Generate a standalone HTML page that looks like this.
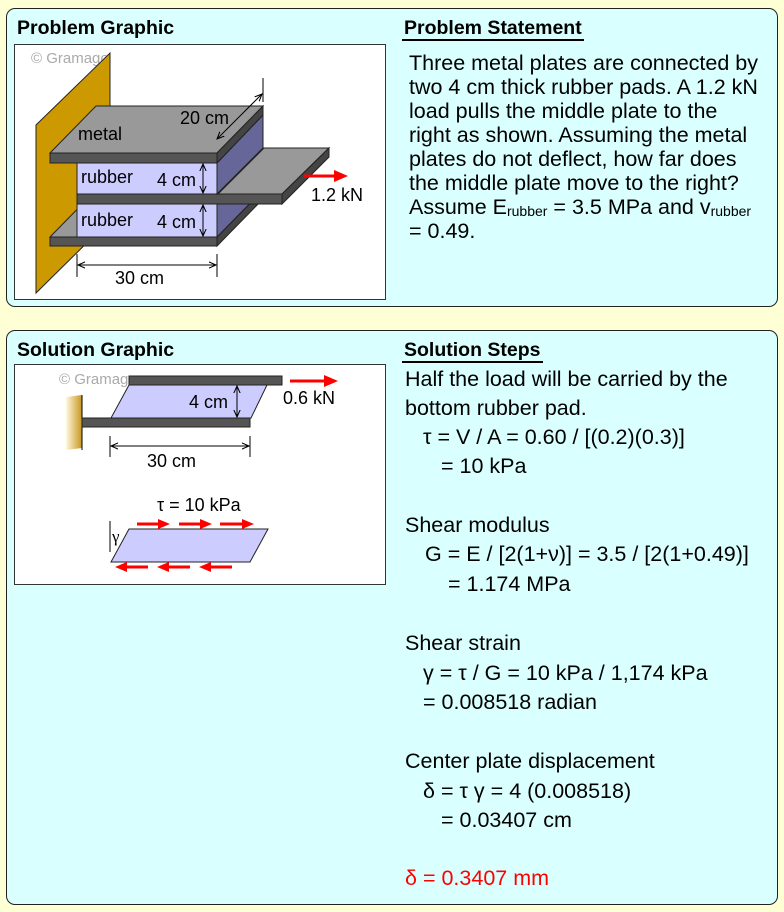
<!DOCTYPE html>
<html><head><meta charset="utf-8"><style>
body{margin:0;width:784px;height:912px;background:#ffffd6;position:relative;overflow:hidden;font-family:"Liberation Sans",sans-serif;color:#000}
.panel{position:absolute;left:6px;width:772px;background:#d9ffff;border:1.5px solid #222;border-radius:9px;box-sizing:border-box}
.h{position:absolute;font-weight:bold;font-size:19.5px;line-height:20px;white-space:nowrap}
.u{border-bottom:2.5px solid #000;padding:0 2px 0 2px}
.t{position:absolute;font-size:21.5px;white-space:nowrap;line-height:20px}
.box{position:absolute;background:#fff;border:1.5px solid #333;box-sizing:border-box}
sub{font-size:14px;vertical-align:-2px;line-height:0}
</style></head><body>
<div class="panel" style="top:8px;height:299px"></div>
<div class="panel" style="top:330px;height:575px"></div>
<div class="h" style="left:17px;top:18px">Problem Graphic</div>
<div class="h" style="left:402px;top:18px"><span class="u">Problem Statement</span></div>
<div class="h" style="left:17px;top:340px">Solution Graphic</div>
<div class="h" style="left:402px;top:340px"><span class="u">Solution Steps</span></div>

<div class="box" style="left:14px;top:44px;width:372px;height:256px"></div>
<div class="box" style="left:14px;top:364px;width:372px;height:221px"></div>

<svg style="position:absolute;left:0;top:0" width="784" height="912" font-family="Liberation Sans, sans-serif">
<defs>
<marker id="a" viewBox="0 0 10 10" refX="9" refY="5" markerWidth="8" markerHeight="8" orient="auto-start-reverse"><path d="M0,1 L9,5 L0,9" fill="none" stroke="#000" stroke-width="1.3"/></marker>
<linearGradient id="g" x1="0" x2="1"><stop offset="0" stop-color="#fff8e0"/><stop offset="1" stop-color="#c8961e"/></linearGradient>
</defs>
<text x="31" y="63" font-size="15" fill="#aaa">© Gramago</text>
<polygon points="36,125 110,53 110,220 36,293" fill="#cc9900" stroke="#222" stroke-width="1"/>
<polygon points="50,237 96,190 263,190 217,237" fill="#999" stroke="#222"/>
<polygon points="217,237 263,190 263,199 217,246" fill="#444" stroke="#222"/>
<rect x="50" y="237" width="167" height="9" fill="#555" stroke="#222"/>
<polygon points="217,204 263,157 263,190 217,237" fill="#666699" stroke="#222"/>
<rect x="77" y="204" width="140" height="33" fill="#ccccff" stroke="#222"/>
<polygon points="218,194 264,148 329,148 282,194" fill="#999" stroke="#222"/>
<polygon points="282,194 329,148 329,157 282,204" fill="#444" stroke="#222"/>
<rect x="77" y="194" width="205" height="10" fill="#555" stroke="#222"/>
<polygon points="217,163 263,115 263,148 217,194" fill="#666699" stroke="#222"/>
<rect x="77" y="163" width="140" height="31" fill="#ccccff" stroke="#222"/>
<polygon points="50,153 96,106 263,106 217,153" fill="#999" stroke="#222"/>
<polygon points="217,153 263,106 263,115 217,163" fill="#444" stroke="#222"/>
<rect x="50" y="153" width="167" height="10" fill="#555" stroke="#222"/>
<line x1="263" y1="78" x2="263" y2="102" stroke="#000"/>
<line x1="217" y1="139" x2="262" y2="94" stroke="#000" marker-start="url(#a)" marker-end="url(#a)"/>
<line x1="203" y1="164" x2="203" y2="193" stroke="#000" marker-start="url(#a)" marker-end="url(#a)"/>
<line x1="203" y1="205" x2="203" y2="236" stroke="#000" marker-start="url(#a)" marker-end="url(#a)"/>
<line x1="77" y1="254" x2="77" y2="277" stroke="#000"/>
<line x1="217" y1="254" x2="217" y2="277" stroke="#000"/>
<line x1="78" y1="265" x2="216" y2="265" stroke="#000" marker-start="url(#a)" marker-end="url(#a)"/>
<line x1="304" y1="176" x2="336" y2="176" stroke="#f00" stroke-width="3"/>
<polygon points="334,170 348,176 334,182" fill="#f00"/>
<g font-size="18">
<text x="78" y="140">metal</text>
<text x="180" y="124">20 cm</text>
<text x="81" y="183">rubber</text><text x="157" y="186">4 cm</text>
<text x="81" y="226">rubber</text><text x="157" y="228">4 cm</text>
<text x="115" y="284">30 cm</text>
<text x="311" y="201">1.2 kN</text>
</g>
<text x="59" y="384" font-size="15" fill="#aaa">© Gramago</text>
<polygon points="66,397 82,395 82,448 66,450" fill="url(#g)"/>
<line x1="82" y1="395" x2="82" y2="450" stroke="#000"/>
<rect x="129" y="376" width="153" height="9" fill="#555" stroke="#222"/>
<polygon points="129,385 267,385 251,418 111,418" fill="#ccccff" stroke="#222"/>
<rect x="82" y="418" width="168" height="9" fill="#555" stroke="#222"/>
<line x1="237" y1="386" x2="237" y2="417" stroke="#000" marker-start="url(#a)" marker-end="url(#a)"/>
<line x1="110" y1="436" x2="110" y2="457" stroke="#000"/>
<line x1="250" y1="436" x2="250" y2="457" stroke="#000"/>
<line x1="111" y1="446" x2="249" y2="446" stroke="#000" marker-start="url(#a)" marker-end="url(#a)"/>
<line x1="290" y1="381" x2="326" y2="381" stroke="#f00" stroke-width="3"/>
<polygon points="324,375 338,381 324,387" fill="#f00"/>
<polygon points="129,529 268,529 250,562 111,562" fill="#ccccff" stroke="#222"/>
<line x1="110" y1="521" x2="110" y2="552" stroke="#000"/>
<g fill="#f00" stroke="#f00" stroke-width="3">
<line x1="137" y1="524" x2="160" y2="524"/><polygon points="158,519 170,524 158,529" stroke="none"/>
<line x1="179" y1="524" x2="202" y2="524"/><polygon points="200,519 212,524 200,529" stroke="none"/>
<line x1="220" y1="524" x2="244" y2="524"/><polygon points="242,519 254,524 242,529" stroke="none"/>
<line x1="125" y1="567" x2="148" y2="567"/><polygon points="127,562 115,567 127,572" stroke="none"/>
<line x1="167" y1="567" x2="190" y2="567"/><polygon points="169,562 157,567 169,572" stroke="none"/>
<line x1="209" y1="567" x2="232" y2="567"/><polygon points="211,562 199,567 211,572" stroke="none"/>
</g>
<g font-size="18">
<text x="189" y="408">4 cm</text>
<text x="283" y="404">0.6 kN</text>
<text x="147" y="467">30 cm</text>
<text x="157" y="511">τ = 10 kPa</text>
</g>
<text x="112" y="542" font-size="17" font-family="Liberation Serif, serif">γ</text>
</svg>

<div class="t" style="left:409px;top:53px">Three metal plates are connected by</div>
<div class="t" style="left:409px;top:77px">two 4 cm thick rubber pads. A 1.2 kN</div>
<div class="t" style="left:409px;top:101px">load pulls the middle plate to the</div>
<div class="t" style="left:409px;top:125px">right as shown. Assuming the metal</div>
<div class="t" style="left:409px;top:149px">plates do not deflect, how far does</div>
<div class="t" style="left:409px;top:173px">the middle plate move to the right?</div>
<div class="t" style="left:409px;top:197px">Assume E<sub>rubber</sub> = 3.5 MPa and v<sub>rubber</sub></div>
<div class="t" style="left:409px;top:221px">= 0.49.</div>

<div class="t" style="left:405px;top:369px">Half the load will be carried by the</div>
<div class="t" style="left:405px;top:398px">bottom rubber pad.</div>
<div class="t" style="left:423px;top:427px">τ = V / A = 0.60 / [(0.2)(0.3)]</div>
<div class="t" style="left:441px;top:456px">= 10 kPa</div>
<div class="t" style="left:405px;top:515px">Shear modulus</div>
<div class="t" style="left:425px;top:544px">G = E / [2(1+ν)] = 3.5 / [2(1+0.49)]</div>
<div class="t" style="left:448px;top:574px">= 1.174 MPa</div>
<div class="t" style="left:405px;top:633px">Shear strain</div>
<div class="t" style="left:423px;top:663px">γ = τ / G = 10 kPa / 1,174 kPa</div>
<div class="t" style="left:423px;top:692px">= 0.008518 radian</div>
<div class="t" style="left:405px;top:751px">Center plate displacement</div>
<div class="t" style="left:423px;top:781px">δ = τ γ = 4 (0.008518)</div>
<div class="t" style="left:441px;top:810px">= 0.03407 cm</div>
<div class="t" style="left:405px;top:868px;color:#f00">δ = 0.3407 mm</div>
</body></html>
